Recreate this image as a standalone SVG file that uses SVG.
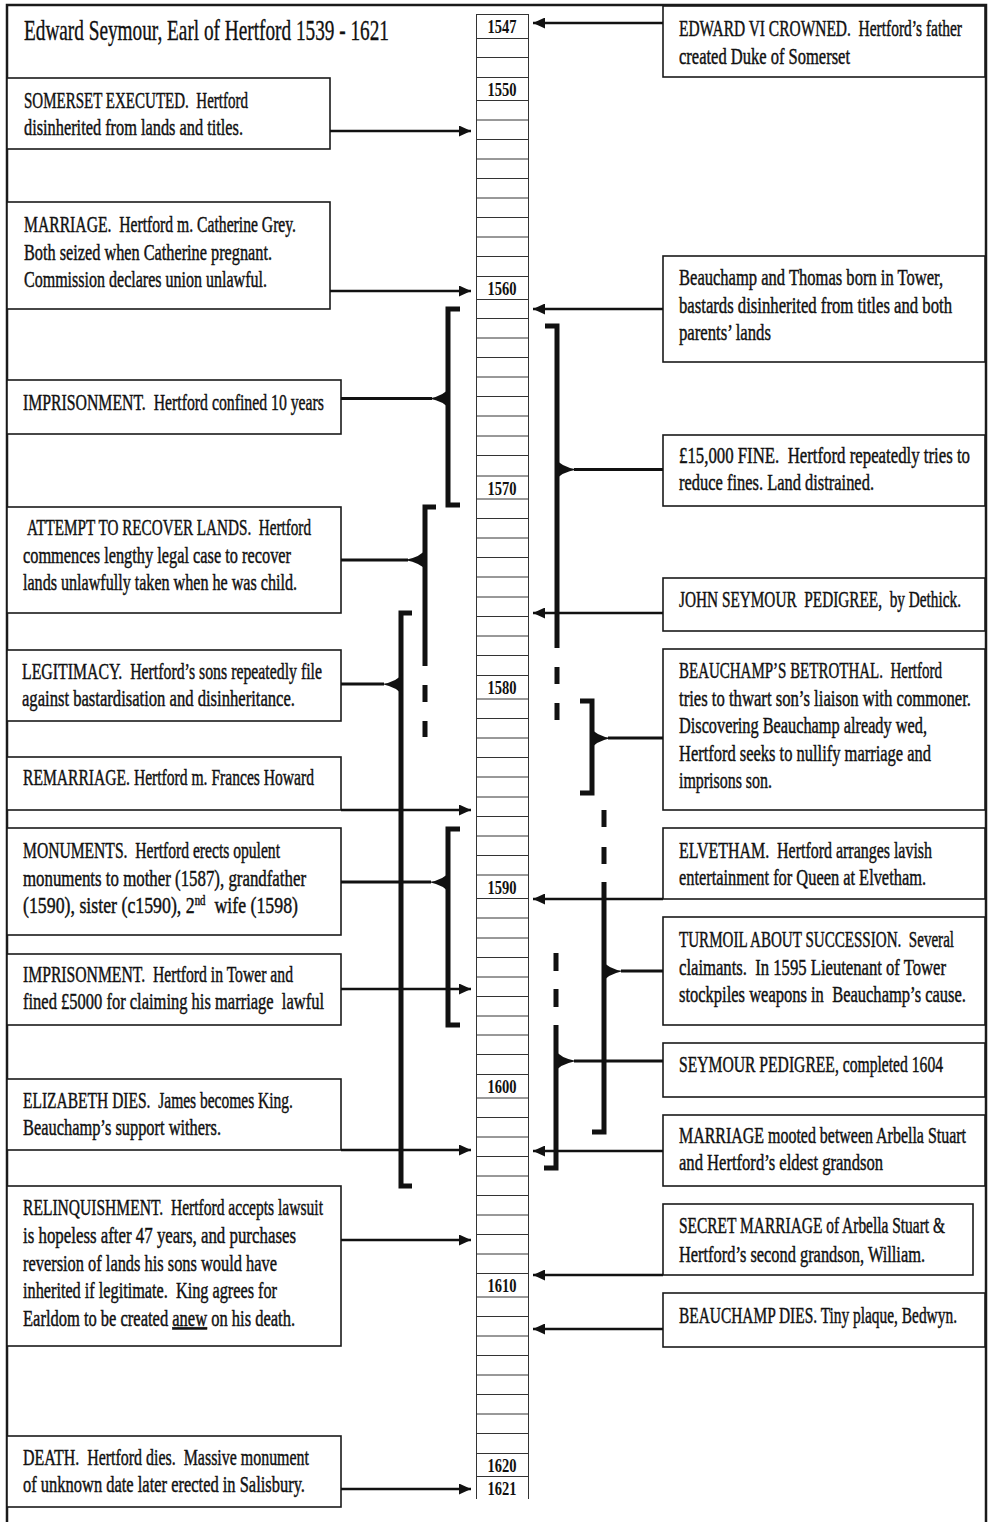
<svg xmlns="http://www.w3.org/2000/svg" width="991" height="1522" viewBox="0 0 991 1522">
  <defs>
    <marker id="ah" markerUnits="userSpaceOnUse" markerWidth="13" markerHeight="11" refX="12" refY="5.5" orient="auto">
      <path d="M0,0 L12,5.5 L0,11 Z" fill="#111"/>
    </marker>
    <style>
      .box { fill: #fff; stroke: #1a1a1a; stroke-width: 1.6; }
      .t { font-family: "Liberation Serif", "Times New Roman", serif; font-size: 23px; fill: #111; stroke: #111; stroke-width: 0.45; white-space: pre; }
      .title { font-size: 29px; stroke-width: 0.35; }
      .yr { font-family: "Liberation Serif", "Times New Roman", serif; font-weight: bold; font-size: 19.5px; fill: #111; text-anchor: middle; }
      .arrow { stroke: #111; stroke-width: 2.6; fill: none; marker-end: url(#ah); }
      .conn { stroke: #111; stroke-width: 3; fill: none; }
      .br { stroke: #111; stroke-width: 5; fill: none; stroke-linejoin: miter; }
      .fan { fill: #111; }
      .col { stroke: #333; stroke-width: 1; fill: none; }
      .frame { stroke: #1a1a1a; stroke-width: 2.5; fill: none; }
    </style>
  </defs>

  <rect width="991" height="1522" fill="#fff"/>
  <path class="frame" d="M7,1522 V5 H986 V1522"/>

  <!-- year column -->
  <g id="timeline">
    <path class="col" d="M476.5,14 V1499 M528.5,14 V1499"/>
    <path class="col" d="M476,14.5 H529 M476,38.5 H529 M476,57.5 H529 M476,77.5 H529
      M476,100.5 H529 M476,120 H529 M476,139.5 H529 M476,159 H529 M476,178.5 H529 M476,198 H529 M476,217.5 H529 M476,237 H529 M476,256.5 H529 M476,276.5 H529
      M476,299.5 H529 M476,318.5 H529 M476,338 H529 M476,357.5 H529 M476,377 H529 M476,396.5 H529 M476,416 H529 M476,436 H529 M476,455.5 H529 M476,476 H529
      M476,499 H529 M476,518.5 H529 M476,538 H529 M476,557.5 H529 M476,577 H529 M476,597 H529 M476,616.5 H529 M476,636 H529 M476,655.5 H529 M476,675.5 H529
      M476,699 H529 M476,718.5 H529 M476,738 H529 M476,757.5 H529 M476,777 H529 M476,797 H529 M476,816.5 H529 M476,836 H529 M476,855.5 H529 M476,875 H529
      M476,898.5 H529 M476,918 H529 M476,938 H529 M476,957.5 H529 M476,977 H529 M476,996.5 H529 M476,1016 H529 M476,1035 H529 M476,1054.5 H529 M476,1074.5 H529
      M476,1098 H529 M476,1117.5 H529 M476,1137 H529 M476,1156.5 H529 M476,1176 H529 M476,1195.5 H529 M476,1215 H529 M476,1234.5 H529 M476,1254 H529 M476,1273.5 H529
      M476,1297 H529 M476,1316.5 H529 M476,1336 H529 M476,1355.5 H529 M476,1375 H529 M476,1394.5 H529 M476,1414 H529 M476,1433.5 H529 M476,1453.5 H529
      M476,1476.5 H529"/>
    <text class="yr" transform="translate(502,33) scale(0.75,1)" textLength="38.7" lengthAdjust="spacingAndGlyphs">1547</text>
    <text class="yr" transform="translate(502,96) scale(0.75,1)" textLength="38.7" lengthAdjust="spacingAndGlyphs">1550</text>
    <text class="yr" transform="translate(502,295) scale(0.75,1)" textLength="38.7" lengthAdjust="spacingAndGlyphs">1560</text>
    <text class="yr" transform="translate(502,495) scale(0.75,1)" textLength="38.7" lengthAdjust="spacingAndGlyphs">1570</text>
    <text class="yr" transform="translate(502,694) scale(0.75,1)" textLength="38.7" lengthAdjust="spacingAndGlyphs">1580</text>
    <text class="yr" transform="translate(502,894) scale(0.75,1)" textLength="38.7" lengthAdjust="spacingAndGlyphs">1590</text>
    <text class="yr" transform="translate(502,1093) scale(0.75,1)" textLength="38.7" lengthAdjust="spacingAndGlyphs">1600</text>
    <text class="yr" transform="translate(502,1292) scale(0.75,1)" textLength="38.7" lengthAdjust="spacingAndGlyphs">1610</text>
    <text class="yr" transform="translate(502,1472) scale(0.75,1)" textLength="38.7" lengthAdjust="spacingAndGlyphs">1620</text>
    <text class="yr" transform="translate(502,1495) scale(0.75,1)" textLength="38.7" lengthAdjust="spacingAndGlyphs">1621</text>
  </g>

  <g id="title">
    <text class="t title" transform="translate(24,40) scale(0.65,1)" textLength="561.5" lengthAdjust="spacingAndGlyphs">Edward Seymour, Earl of Hertford 1539 - 1621</text>
  </g>

  <!-- left-hand events (condensed serif: each line scaled 0.65 horizontally) -->
  <g id="somerset-executed">
    <rect class="box" x="7" y="78" width="323" height="71"/>
    <text class="t" transform="translate(24,108) scale(0.65,1)" textLength="344.6" lengthAdjust="spacingAndGlyphs">SOMERSET EXECUTED.  Hertford</text>
    <text class="t" transform="translate(24,135) scale(0.65,1)" textLength="336.9" lengthAdjust="spacingAndGlyphs">disinherited from lands and titles.</text>
  </g>
  <g id="marriage">
    <rect class="box" x="7" y="202" width="323" height="107"/>
    <text class="t" transform="translate(24,232) scale(0.65,1)" textLength="418.5" lengthAdjust="spacingAndGlyphs">MARRIAGE.  Hertford m. Catherine Grey.</text>
    <text class="t" transform="translate(24,260) scale(0.65,1)" textLength="381.5" lengthAdjust="spacingAndGlyphs">Both seized when Catherine pregnant.</text>
    <text class="t" transform="translate(24,287) scale(0.65,1)" textLength="373.8" lengthAdjust="spacingAndGlyphs">Commission declares union unlawful.</text>
  </g>
  <g id="imprisonment-1">
    <rect class="box" x="7" y="380" width="334" height="54"/>
    <text class="t" transform="translate(23,410) scale(0.65,1)" textLength="463.1" lengthAdjust="spacingAndGlyphs">IMPRISONMENT.  Hertford confined 10 years</text>
  </g>
  <g id="attempt-to-recover">
    <rect class="box" x="7" y="507" width="334" height="106"/>
    <text class="t" transform="translate(27,535) scale(0.65,1)" textLength="436.9" lengthAdjust="spacingAndGlyphs">ATTEMPT TO RECOVER LANDS.  Hertford</text>
    <text class="t" transform="translate(23,563) scale(0.65,1)" textLength="412.3" lengthAdjust="spacingAndGlyphs">commences lengthy legal case to recover</text>
    <text class="t" transform="translate(23,590) scale(0.65,1)" textLength="421.5" lengthAdjust="spacingAndGlyphs">lands unlawfully taken when he was child.</text>
  </g>
  <g id="legitimacy">
    <rect class="box" x="7" y="650" width="334" height="71"/>
    <text class="t" transform="translate(22,679) scale(0.65,1)" textLength="461.5" lengthAdjust="spacingAndGlyphs">LEGITIMACY.  Hertford’s sons repeatedly file</text>
    <text class="t" transform="translate(22,706) scale(0.65,1)" textLength="420" lengthAdjust="spacingAndGlyphs">against bastardisation and disinheritance.</text>
  </g>
  <g id="remarriage">
    <rect class="box" x="7" y="757" width="334" height="53"/>
    <text class="t" transform="translate(23,785) scale(0.65,1)" textLength="447.7" lengthAdjust="spacingAndGlyphs">REMARRIAGE. Hertford m. Frances Howard</text>
  </g>
  <g id="monuments">
    <rect class="box" x="7" y="828" width="334" height="107"/>
    <text class="t" transform="translate(23,858) scale(0.65,1)" textLength="395.4" lengthAdjust="spacingAndGlyphs">MONUMENTS.  Hertford erects opulent</text>
    <text class="t" transform="translate(23,886) scale(0.65,1)" textLength="435.4" lengthAdjust="spacingAndGlyphs">monuments to mother (1587), grandfather</text>
    <text class="t" transform="translate(23,913) scale(0.65,1)" textLength="423.1" lengthAdjust="spacingAndGlyphs">(1590), sister (c1590), 2<tspan font-size="14" dy="-8">nd</tspan><tspan dy="8">  wife (1598)</tspan></text>
  </g>
  <g id="imprisonment-2">
    <rect class="box" x="7" y="954" width="334" height="71"/>
    <text class="t" transform="translate(23,982) scale(0.65,1)" textLength="415.4" lengthAdjust="spacingAndGlyphs">IMPRISONMENT.  Hertford in Tower and</text>
    <text class="t" transform="translate(23,1009) scale(0.65,1)" textLength="463.1" lengthAdjust="spacingAndGlyphs">fined £5000 for claiming his marriage  lawful</text>
  </g>
  <g id="elizabeth-dies">
    <rect class="box" x="7" y="1079" width="334" height="71"/>
    <text class="t" transform="translate(23,1108) scale(0.65,1)" textLength="415.4" lengthAdjust="spacingAndGlyphs">ELIZABETH DIES.  James becomes King.</text>
    <text class="t" transform="translate(23,1135) scale(0.65,1)" textLength="304.6" lengthAdjust="spacingAndGlyphs">Beauchamp’s support withers.</text>
  </g>
  <g id="relinquishment">
    <rect class="box" x="7" y="1186" width="334" height="160"/>
    <text class="t" transform="translate(23,1215) scale(0.65,1)" textLength="461.5" lengthAdjust="spacingAndGlyphs">RELINQUISHMENT.  Hertford accepts lawsuit</text>
    <text class="t" transform="translate(23,1243) scale(0.65,1)" textLength="420" lengthAdjust="spacingAndGlyphs">is hopeless after 47 years, and purchases</text>
    <text class="t" transform="translate(23,1271) scale(0.65,1)" textLength="390.8" lengthAdjust="spacingAndGlyphs">reversion of lands his sons would have</text>
    <text class="t" transform="translate(23,1298) scale(0.65,1)" textLength="390.8" lengthAdjust="spacingAndGlyphs">inherited if legitimate.  King agrees for</text>
    <text class="t" transform="translate(23,1326) scale(0.65,1)" textLength="418.5" lengthAdjust="spacingAndGlyphs">Earldom to be created <tspan text-decoration="underline">anew</tspan> on his death.</text>
  </g>
  <g id="death">
    <rect class="box" x="7" y="1436" width="334" height="71"/>
    <text class="t" transform="translate(23,1465) scale(0.65,1)" textLength="440" lengthAdjust="spacingAndGlyphs">DEATH.  Hertford dies.  Massive monument</text>
    <text class="t" transform="translate(23,1492) scale(0.65,1)" textLength="433.8" lengthAdjust="spacingAndGlyphs">of unknown date later erected in Salisbury.</text>
  </g>

  <!-- right-hand events -->
  <g id="edward-vi-crowned">
    <rect class="box" x="663" y="6" width="322" height="71"/>
    <text class="t" transform="translate(679,36) scale(0.65,1)" textLength="435.4" lengthAdjust="spacingAndGlyphs">EDWARD VI CROWNED.  Hertford’s father</text>
    <text class="t" transform="translate(679,64) scale(0.65,1)" textLength="263.1" lengthAdjust="spacingAndGlyphs">created Duke of Somerset</text>
  </g>
  <g id="sons-born">
    <rect class="box" x="663" y="256" width="322" height="106"/>
    <text class="t" transform="translate(679,285) scale(0.65,1)" textLength="406.2" lengthAdjust="spacingAndGlyphs">Beauchamp and Thomas born in Tower,</text>
    <text class="t" transform="translate(679,313) scale(0.65,1)" textLength="420" lengthAdjust="spacingAndGlyphs">bastards disinherited from titles and both</text>
    <text class="t" transform="translate(679,340) scale(0.65,1)" textLength="141.5" lengthAdjust="spacingAndGlyphs">parents’ lands</text>
  </g>
  <g id="fine">
    <rect class="box" x="663" y="435" width="322" height="71"/>
    <text class="t" transform="translate(679,463) scale(0.65,1)" textLength="447.7" lengthAdjust="spacingAndGlyphs">£15,000 FINE.  Hertford repeatedly tries to</text>
    <text class="t" transform="translate(679,490) scale(0.65,1)" textLength="300" lengthAdjust="spacingAndGlyphs">reduce fines. Land distrained.</text>
  </g>
  <g id="john-seymour-pedigree">
    <rect class="box" x="663" y="578" width="322" height="53"/>
    <text class="t" transform="translate(679,607) scale(0.65,1)" textLength="433.8" lengthAdjust="spacingAndGlyphs">JOHN SEYMOUR  PEDIGREE,  by Dethick.</text>
  </g>
  <g id="betrothal">
    <rect class="box" x="663" y="649" width="322" height="161"/>
    <text class="t" transform="translate(679,678) scale(0.65,1)" textLength="404.6" lengthAdjust="spacingAndGlyphs">BEAUCHAMP’S BETROTHAL.  Hertford</text>
    <text class="t" transform="translate(679,706) scale(0.65,1)" textLength="449.2" lengthAdjust="spacingAndGlyphs">tries to thwart son’s liaison with commoner.</text>
    <text class="t" transform="translate(679,733) scale(0.65,1)" textLength="381.5" lengthAdjust="spacingAndGlyphs">Discovering Beauchamp already wed,</text>
    <text class="t" transform="translate(679,761) scale(0.65,1)" textLength="387.7" lengthAdjust="spacingAndGlyphs">Hertford seeks to nullify marriage and</text>
    <text class="t" transform="translate(679,788) scale(0.65,1)" textLength="143.1" lengthAdjust="spacingAndGlyphs">imprisons son.</text>
  </g>
  <g id="elvetham">
    <rect class="box" x="663" y="828" width="322" height="71"/>
    <text class="t" transform="translate(679,858) scale(0.65,1)" textLength="389.2" lengthAdjust="spacingAndGlyphs">ELVETHAM.  Hertford arranges lavish</text>
    <text class="t" transform="translate(679,885) scale(0.65,1)" textLength="380" lengthAdjust="spacingAndGlyphs">entertainment for Queen at Elvetham.</text>
  </g>
  <g id="turmoil">
    <rect class="box" x="663" y="917" width="322" height="108"/>
    <text class="t" transform="translate(679,947) scale(0.65,1)" textLength="423.1" lengthAdjust="spacingAndGlyphs">TURMOIL ABOUT SUCCESSION.  Several</text>
    <text class="t" transform="translate(679,975) scale(0.65,1)" textLength="410.8" lengthAdjust="spacingAndGlyphs">claimants.  In 1595 Lieutenant of Tower</text>
    <text class="t" transform="translate(679,1002) scale(0.65,1)" textLength="441.5" lengthAdjust="spacingAndGlyphs">stockpiles weapons in  Beauchamp’s cause.</text>
  </g>
  <g id="seymour-pedigree">
    <rect class="box" x="663" y="1043" width="322" height="54"/>
    <text class="t" transform="translate(679,1072) scale(0.65,1)" textLength="406.2" lengthAdjust="spacingAndGlyphs">SEYMOUR PEDIGREE, completed 1604</text>
  </g>
  <g id="marriage-mooted">
    <rect class="box" x="663" y="1115" width="322" height="71"/>
    <text class="t" transform="translate(679,1143) scale(0.65,1)" textLength="441.5" lengthAdjust="spacingAndGlyphs">MARRIAGE mooted between Arbella Stuart</text>
    <text class="t" transform="translate(679,1170) scale(0.65,1)" textLength="313.8" lengthAdjust="spacingAndGlyphs">and Hertford’s eldest grandson</text>
  </g>
  <g id="secret-marriage">
    <rect class="box" x="663" y="1204" width="310" height="71"/>
    <text class="t" transform="translate(679,1233) scale(0.65,1)" textLength="409.2" lengthAdjust="spacingAndGlyphs">SECRET MARRIAGE of Arbella Stuart &amp;</text>
    <text class="t" transform="translate(679,1262) scale(0.65,1)" textLength="378.5" lengthAdjust="spacingAndGlyphs">Hertford’s second grandson, William.</text>
  </g>
  <g id="beauchamp-dies">
    <rect class="box" x="663" y="1293" width="322" height="54"/>
    <text class="t" transform="translate(679,1323) scale(0.65,1)" textLength="427.7" lengthAdjust="spacingAndGlyphs">BEAUCHAMP DIES. Tiny plaque, Bedwyn.</text>
  </g>

  <!-- connectors: arrows to the column, span brackets with fan joints -->
  <g id="connectors">
    <line class="arrow" x1="330" y1="131" x2="471" y2="131"/>
    <line class="arrow" x1="330" y1="291" x2="471" y2="291"/>
    <line class="arrow" x1="341" y1="810" x2="471" y2="810"/>
    <line class="arrow" x1="341" y1="989" x2="471" y2="989"/>
    <line class="arrow" x1="341" y1="1150" x2="471" y2="1150"/>
    <line class="arrow" x1="341" y1="1240" x2="471" y2="1240"/>
    <line class="arrow" x1="341" y1="1489" x2="471" y2="1489"/>

    <line class="arrow" x1="663" y1="23" x2="533" y2="23"/>
    <line class="arrow" x1="663" y1="309" x2="533" y2="309"/>
    <line class="arrow" x1="663" y1="613" x2="533" y2="613"/>
    <line class="arrow" x1="663" y1="899" x2="533" y2="899"/>
    <line class="arrow" x1="663" y1="1151" x2="533" y2="1151"/>
    <line class="arrow" x1="663" y1="1275" x2="533" y2="1275"/>
    <line class="arrow" x1="663" y1="1329" x2="533" y2="1329"/>

    <!-- imprisonment 1560s -->
    <path class="br" d="M460,309 H448 V505 H460"/>
    <line class="conn" x1="341" y1="398.5" x2="432" y2="398.5"/>
    <path class="fan" d="M450,387 Q444,396 429,398.5 Q444,401 450,410 Z"/>

    <!-- attempt to recover lands -->
    <path class="br" d="M436,507 H425 V666 M425,685 V702 M425,721 V737"/>
    <line class="conn" x1="341" y1="560" x2="408" y2="560"/>
    <path class="fan" d="M427,548 Q421,557 405,560 Q421,563 427,571 Z"/>

    <!-- legitimacy -->
    <path class="br" d="M412,613 H401 V1186 H412"/>
    <line class="conn" x1="341" y1="684" x2="384" y2="684"/>
    <path class="fan" d="M403,673 Q397,682 382,684 Q397,687 403,696 Z"/>

    <!-- monuments -->
    <path class="br" d="M460,829 H448 V1025 H460"/>
    <line class="conn" x1="341" y1="882" x2="431" y2="882"/>
    <path class="fan" d="M450,871 Q444,880 429,882 Q444,885 450,894 Z"/>

    <!-- fine, 1560s to 1580s -->
    <path class="br" d="M545,326 H557 V648 M557,667 V684 M557,703 V720"/>
    <line class="conn" x1="574" y1="469.5" x2="663" y2="469.5"/>
    <path class="fan" d="M555,458 Q561,467 577,469.5 Q561,472 555,481 Z"/>

    <!-- betrothal -->
    <path class="br" d="M580,701 H592 V793 H580"/>
    <line class="conn" x1="608" y1="738" x2="663" y2="738"/>
    <path class="fan" d="M590,727 Q596,736 611,738 Q596,741 590,750 Z"/>

    <!-- turmoil about succession -->
    <path class="br" d="M604,810 V827 M604,847 V864 M604,882 V1132 H592"/>
    <line class="conn" x1="621" y1="971" x2="663" y2="971"/>
    <path class="fan" d="M602,960 Q608,969 623,971 Q608,974 602,983 Z"/>

    <!-- seymour pedigree -->
    <path class="br" d="M556,953 V971 M556,989 V1007 M556,1025 V1168 H544"/>
    <line class="conn" x1="574" y1="1061" x2="663" y2="1061"/>
    <path class="fan" d="M554,1049 Q560,1058 576,1061 Q560,1064 554,1073 Z"/>
  </g>
</svg>
